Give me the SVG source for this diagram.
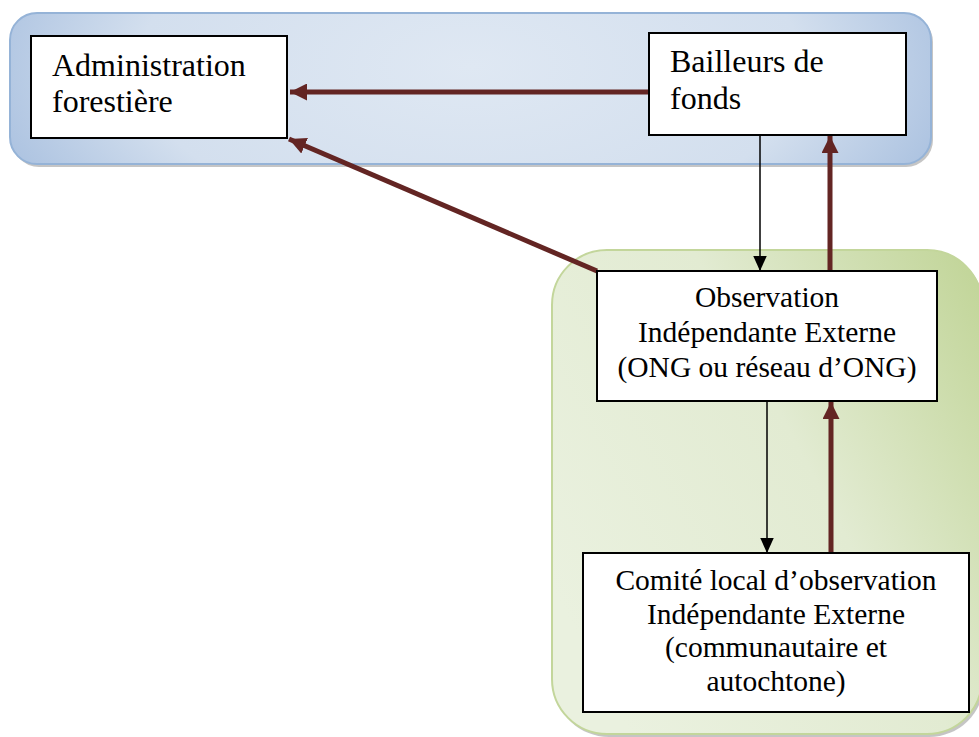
<svg xmlns="http://www.w3.org/2000/svg" width="979" height="737" viewBox="0 0 979 737">
<defs>
<style>
.node{fill:#ffffff;stroke:#000000;stroke-width:2}
text{font-family:'Liberation Serif','Tinos','Times New Roman','DejaVu Serif',serif;font-size:29.5px;fill:#000000}
.big{font-size:32px}
.c{text-anchor:middle}
.mar{stroke:#632523;stroke-width:5;fill:none}
.blk{stroke:#000000;stroke-width:1.5;fill:none}
</style>
<radialGradient id="gb" cx="0.5" cy="0.35" r="0.6" gradientTransform="translate(0.5 0.35) scale(1 3) translate(-0.5 -0.35)">
<stop offset="0" stop-color="#dfe8f3"/>
<stop offset="0.6" stop-color="#d3dfee"/>
<stop offset="1" stop-color="#9fb9dc"/>
</radialGradient>
<linearGradient id="gg" x1="0" y1="0.7" x2="1" y2="0.1">
<stop offset="0" stop-color="#eaf1df"/>
<stop offset="0.55" stop-color="#e2ebd2"/>
<stop offset="1" stop-color="#c3d69b"/>
</linearGradient>
<marker id="am" viewBox="0 0 10 10" refX="10" refY="5" markerWidth="3.4" markerHeight="3.4" orient="auto" markerUnits="strokeWidth">
<path d="M0,0 L10,5 L0,10 z" fill="#632523"/>
</marker>
<marker id="ab" viewBox="0 0 10 10" refX="10" refY="5" markerWidth="10" markerHeight="10" orient="auto" markerUnits="strokeWidth">
<path d="M0,0.5 L10,5 L0,9.5 z" fill="#000000"/>
</marker>
</defs>
<rect width="979" height="737" fill="#ffffff"/>
<g id="panel-blue">
<rect x="12" y="15" width="921" height="152" rx="27" fill="#8c8c8c" opacity="0.5"/>
<rect x="10" y="13" width="921" height="151" rx="27" fill="url(#gb)" stroke="#95b3d7" stroke-width="2"/>
</g>
<g id="panel-green">
<rect x="554" y="252" width="430" height="485" rx="55" fill="#8c8c8c" opacity="0.5"/>
<rect x="552" y="250" width="430" height="484" rx="55" fill="url(#gg)" stroke="#c3d69b" stroke-width="2"/>
</g>
<g id="connectors">
<line class="mar" x1="649" y1="92" x2="290" y2="92" marker-end="url(#am)"/>
<line class="mar" x1="597" y1="271" x2="289" y2="139" marker-end="url(#am)"/>
<line class="blk" x1="760" y1="135" x2="760" y2="271" marker-end="url(#ab)"/>
<line class="mar" x1="830" y1="271" x2="830" y2="136" marker-end="url(#am)"/>
<line class="blk" x1="767" y1="401" x2="767" y2="553" marker-end="url(#ab)"/>
<line class="mar" x1="831" y1="553" x2="831" y2="402" marker-end="url(#am)"/>
</g>
<g id="admin">
<rect class="node" x="31" y="36" width="256" height="102"/>
<text class="big" x="52" y="76">Administration</text>
<text class="big" x="52" y="112">forestière</text>
</g>
<g id="bailleurs">
<rect class="node" x="649" y="33" width="257" height="102"/>
<text class="big" x="670" y="72">Bailleurs de</text>
<text class="big" x="670" y="109">fonds</text>
</g>
<g id="observation">
<rect class="node" x="597" y="271" width="340" height="130"/>
<text class="c" x="767" y="307">Observation</text>
<text class="c" x="767" y="342">Indépendante Externe</text>
<text class="c" x="767" y="377">(ONG ou réseau d’ONG)</text>
</g>
<g id="comite">
<rect class="node" x="583" y="553" width="386" height="159"/>
<text class="c" x="776" y="590">Comité local d’observation</text>
<text class="c" x="776" y="624">Indépendante Externe</text>
<text class="c" x="776" y="657">(communautaire et</text>
<text class="c" x="776" y="691">autochtone)</text>
</g>
</svg>
